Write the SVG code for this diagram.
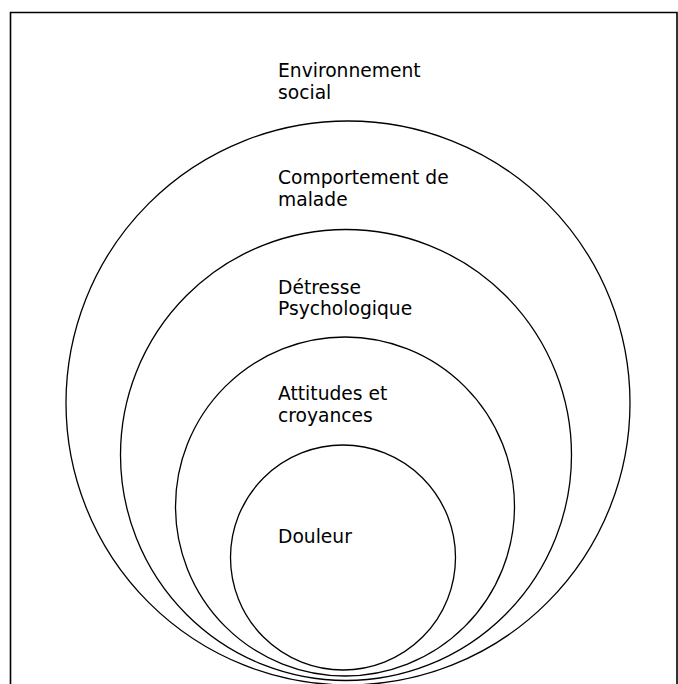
<svg xmlns="http://www.w3.org/2000/svg" width="678" height="684" viewBox="0 0 678 684">
<style>
.c{fill:none;stroke:#000;stroke-width:1.3}
.f{fill:none;stroke:#000;stroke-width:1.6}
text{font-family:"DejaVu Sans","Liberation Sans",sans-serif;font-size:18.7px;fill:#000}
</style>
<rect width="678" height="684" fill="#fff"/>
<path class="f" d="M10.5 684 V12.5 H677 V684"/>
<g id="environnement">
<circle class="c" cx="348" cy="403" r="282"/>
<text x="278" y="77">Environnement</text>
<text x="278" y="98.5">social</text>
</g>
<g id="comportement">
<circle class="c" cx="346" cy="455" r="225.5"/>
<text x="278" y="184">Comportement de</text>
<text x="278" y="206">malade</text>
</g>
<g id="detresse">
<circle class="c" cx="345" cy="506.5" r="169.5"/>
<text x="278" y="293.5">Détresse</text>
<text x="278" y="315">Psychologique</text>
</g>
<g id="attitudes">
<circle class="c" cx="343" cy="557.5" r="112.5"/>
<text x="278" y="400">Attitudes et</text>
<text x="278" y="422">croyances</text>
</g>
<g id="douleur">
<text x="278" y="542.5">Douleur</text>
</g>
<g id="connectors"></g>
</svg>
